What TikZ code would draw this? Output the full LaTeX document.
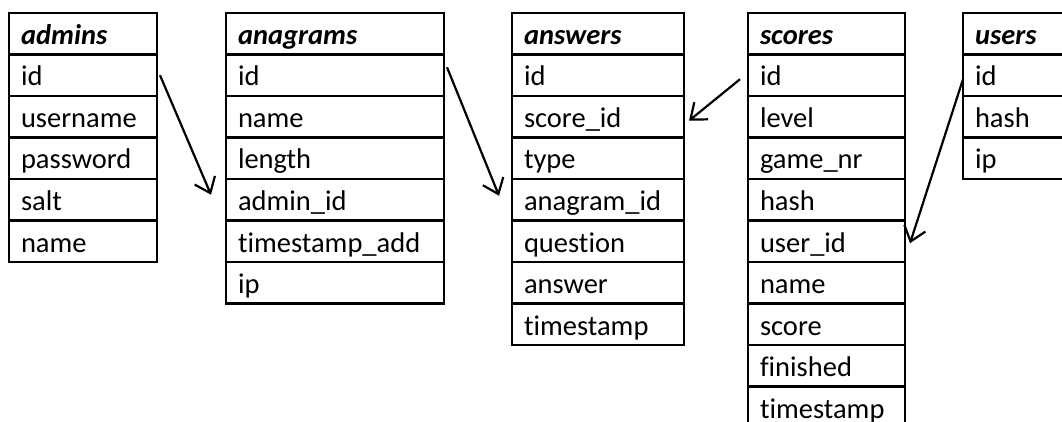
\documentclass[tikz,border=0pt]{standalone}
\usepackage{fontspec}
\setmainfont[Ligatures=NoCommon]{Carlito}
\usetikzlibrary{arrows.meta}

\begin{document}
\begin{tikzpicture}[x=1pt,y=-1pt,line width=2.2pt,
  fld/.style={draw,rectangle,anchor=north west,inner ysep=0pt,inner xsep=12pt,outer sep=0pt,
    text height=31.5pt,text depth=10pt,align=left,font=\fontsize{28.5}{34}\selectfont},
  hdr/.style={fld,font=\fontsize{28.5}{34}\selectfont\bfseries\itshape},
  fk/.style={-{Straight Barb[length=14pt,width=22pt]},line width=2.2pt}]
\useasboundingbox (0,0) rectangle (1062,422);
\clip (0,0) rectangle (1062,422);
\node[hdr,text width=124pt] (admins-0) at (9,13) {admins};
\foreach \f [count=\i] in %
{id,username,password,salt,name} {
   \node[fld,text width=124pt] (admins-\i) at (9,13+\i*41.5) {\f};
}
\node[hdr,text width=194pt] (anagrams-0) at (226,13) {anagrams};
\foreach \f [count=\i] in %
{id,name,length,admin\_id,timestamp\_add,ip} {
   \node[fld,text width=194pt] (anagrams-\i) at (226,13+\i*41.5) {\f};
}
\node[hdr,text width=148pt] (answers-0) at (512,13) {answers};
\foreach \f [count=\i] in %
{id,score\_id,type,anagram\_id,question,answer,timestamp} {
   \node[fld,text width=148pt] (answers-\i) at (512,13+\i*41.5) {\f};
}
\node[hdr,text width=133pt] (scores-0) at (748,13) {scores};
\foreach \f [count=\i] in %
{id,level,game\_nr,hash,user\_id,name,score,finished,timestamp} {
   \node[fld,text width=133pt] (scores-\i) at (748,13+\i*41.5) {\f};
}
\node[hdr,text width=96pt] (users-0) at (963,13) {users};
\foreach \f [count=\i] in %
{id,hash,ip} {
   \node[fld,text width=96pt] (users-\i) at (963,13+\i*41.5) {\f};
}
\draw[fk] ([xshift=3pt]admins-1.east) -- ([xshift=-15pt,yshift=5pt]anagrams-4.west);
\draw[fk] ([xshift=3pt,yshift=8pt]anagrams-1.east) -- ([xshift=-13pt,yshift=4pt]answers-4.west);
\draw[fk] ([xshift=-8pt,yshift=-4pt]scores-1.west) -- ([xshift=5pt,yshift=-4pt]answers-2.east);
\draw[fk] ([yshift=-4pt]users-1.west) -- ([xshift=5pt,yshift=-2pt]scores-5.east);
\end{tikzpicture}
\end{document}
